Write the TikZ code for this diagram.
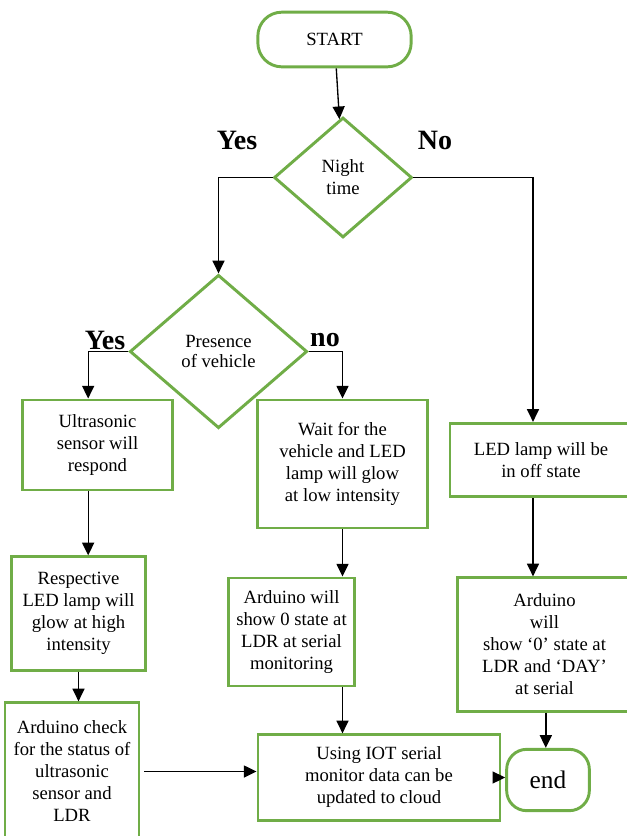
\documentclass[tikz,border=0pt]{standalone}
\usepackage{fontspec}
\setmainfont{Liberation Serif}
\usepackage{xcolor}
\definecolor{boxgreen}{RGB}{112,173,71}
\usetikzlibrary{shapes.geometric,arrows.meta}

\begin{document}
\begin{tikzpicture}[x=0.75pt,y=-0.75pt,
  box/.style={draw=boxgreen,line width=2.2pt,align=center,inner sep=2pt,font=\fontsize{14}{16.5}\selectfont},
  dia/.style={box,diamond,inner sep=0pt},
  term/.style={box,rounded corners=18pt},
  arr/.style={-{Triangle[width=9pt,length=9.5pt]},line width=1pt},
  lbl/.style={font=\fontsize{21}{24}\selectfont\bfseries}]
\useasboundingbox (0,0) rectangle (626,836);
\node[term,minimum width=115pt,minimum height=41pt] (start) at (334.5,39.5) {START};
\node[dia,minimum width=103.5pt,minimum height=90pt] (night) at (343,177.5) {Night\\time};
\node[dia,minimum width=133pt,minimum height=115pt,font=\fontsize{14}{15}\selectfont] (presence) at (218.5,351.5) {Presence\\of vehicle};
\node[box,minimum width=113pt,minimum height=67.5pt] (ultra) at (97.5,445) {Ultrasonic\\sensor will\\respond};
\node[box,minimum width=127pt,minimum height=96pt] (wait) at (342.5,464) {Wait for the\\vehicle and LED\\lamp will glow\\at low intensity};
\node[box,minimum width=136.5pt,minimum height=55pt] (off) at (541,460) {LED lamp will be\\in off state};
\node[box,minimum width=100pt,minimum height=85pt] (resp) at (78.5,613.5) {Respective\\LED lamp will\\glow at high\\intensity};
\node[box,minimum width=95pt,minimum height=81pt] (ardu) at (291.5,632) {Arduino will\\show 0 state at\\LDR at serial\\monitoring};
\node[box,minimum width=131pt,minimum height=100pt] (day) at (544.5,644.5) {Arduino\\will\\show ‘0’ state at\\LDR and ‘DAY’\\at serial};
\node[box,minimum width=100.5pt,minimum height=103pt] (check) at (72,771.5) {Arduino check\\for the status of\\ultrasonic\\sensor and\\LDR};
\node[box,minimum width=181.5pt,minimum height=64pt] (iot) at (379,777.5) {Using IOT serial\\monitor data can be\\updated to cloud};
\node[term,rounded corners=15pt,minimum width=62pt,minimum height=46pt,font=\fontsize{19}{22}\selectfont] (stop) at (548,780) {end};
% branch labels
\node[lbl] (yes1) at (237,140) {Yes};
\node[lbl] (no1) at (435,140) {No};
\node[lbl] (yes2) at (105,340) {Yes};
\node[lbl] (no2) at (325,340) {no};
% connectors
\draw[arr] (start) -- (night);
\draw[arr] (night.west) -| (presence.north);
\draw[arr] (night.east) -| ([xshift=-6pt]off.north);
\draw[arr] (presence.west) -| ([xshift=-7pt]ultra.north);
\draw[arr] (presence.east) -| (wait.north);
\draw[arr] ([xshift=-7pt]ultra.south) -- ([xshift=-7pt]ultra.south |- resp.north);
\draw[arr] (resp.south) -- (resp.south |- check.north);
\draw[arr] (wait.south) -- (wait.south |- ardu.north);
\draw[arr] ([xshift=-6pt]off.south) -- ([xshift=-6pt]off.south |- day.north);
\draw[arr] (ardu.south -| wait.south) -- (iot.north -| wait.south);
\draw[arr] ([xshift=3pt]check.east) -- (check.east -| iot.west);
\draw[arr] (iot.east) -- (iot.east -| stop.west);
\draw[arr] ([xshift=1pt]day.south) -- ([xshift=1pt]day.south |- stop.north);
\end{tikzpicture}
\end{document}
